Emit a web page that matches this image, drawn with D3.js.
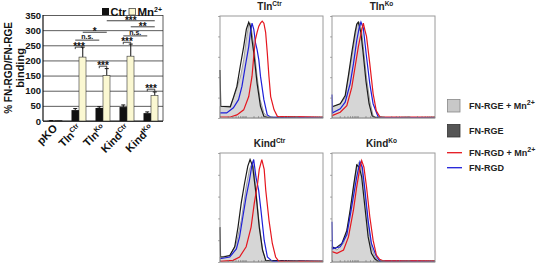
<!DOCTYPE html>
<html>
<head>
<meta charset="utf-8">
<script src="https://cdn.jsdelivr.net/npm/d3@7"></script>
<style>
body { margin: 0; background: #fff; }
text { font-family: "Liberation Sans", Arial, sans-serif; font-weight: bold; }
</style>
</head>
<body>
<script>
// ---- bar chart data ----
var groups = ["pKO", "TlnCtr", "TlnKo", "KindCtr", "KindKo"];
var groupBase = ["pKO", "Tln", "Tln", "Kind", "Kind"];
var groupSup = ["", "Ctr", "Ko", "Ctr", "Ko"];
var ctrValues = [1, 36, 43, 46, 26];
var ctrErr = [0.5, 5, 4, 7, 4];
var mnValues = [1, 211, 150, 214, 84];
var mnErr = [0.5, 33, 23, 40, 12];
var yTicks = [0, 50, 100, 150, 200, 250, 300, 350];

// significance marks: from [group, bar] to [group, bar] at a value
var sigText = ["***", "***", "***", "***", "n.s.", "*", "n.s.", "**", "***"];
var sigFrom = [["TlnCtr","ctr"], ["TlnKo","ctr"], ["KindCtr","ctr"], ["KindKo","ctr"],
               ["TlnCtr","ctr"], ["TlnCtr","mn"], ["KindCtr","ctr"], ["KindCtr","mn"], ["TlnKo","mn"]];
var sigTo = [["TlnCtr","mn"], ["TlnKo","mn"], ["KindCtr","mn"], ["KindKo","mn"],
             ["TlnKo","ctr"], ["TlnKo","mn"], ["KindKo","ctr"], ["KindKo","mn"], ["KindKo","mn"]];
var sigValue = [244, 181, 260, 105, 267, 293, 281, 311, 331];

// ---- flow histograms (% of max vs channel 0-100) ----
var panelNames = ["TlnCtr", "TlnKo", "KindCtr", "KindKo"];
var panelBase = ["Tln", "Tln", "Kind", "Kind"];
var panelSup = ["Ctr", "Ko", "Ctr", "Ko"];

var tlnCtrRgeMn = [[0,11.5],[10,11.5],[15,25],[20,41],[23,57],[26,80],[28,92],[29.5,93],[31,84],[33,70],[36,41],[39,18],[42.6,5],[46,1],[100,0.5]];
var tlnCtrRge = [[0,47],[0.7,11.5],[10,11],[13,20],[16.4,31],[19.7,51],[23,70],[25.6,87],[27.9,94],[29.5,90],[31,77],[32.8,64],[36,34],[39.3,11.5],[42.6,1.6],[46,0.5],[100,0.5]];
var tlnCtrRgd = [[0,5],[6.5,5],[13,10],[18,18],[21.3,31],[24.6,51],[27.9,70],[29.5,84],[31.1,93],[32.8,87],[34.4,74],[36,67],[37.7,57],[39.3,41],[42.6,18],[45.9,3],[49,1],[100,0.5]];
var tlnCtrRgdMn = [[0,1],[10,1],[16.4,3],[23,8],[27.9,21],[31.1,41],[32.8,61],[34.4,77],[36,84],[37.7,90],[39.3,93],[41,95],[42.6,93],[44.3,84],[45.9,64],[47.5,41],[49.2,21],[52.5,8],[55.7,1.6],[100,1]];

var tlnKoRgeMn = [[0,10.5],[8,14],[12.8,20],[16,40],[19.2,60],[22.4,80],[24.6,93],[26.5,94],[28.8,86],[30.4,70],[33.5,40],[36.7,17],[39.9,2.3],[43,0.5],[100,0.5]];
var tlnKoRge = [[0,11],[8,14],[12.8,22],[16,42],[19.2,64],[22.4,84],[24,92],[25.5,94],[28,84],[30,66],[33,36],[36,14],[39,2],[42,0.5],[100,0.5]];
var tlnKoRgd = [[0,23],[0.5,5],[1.6,5.6],[8,9],[12.8,15.5],[17.6,33.5],[20.8,53],[24,76],[26.5,89],[28.1,94],[30.4,88],[33.5,60],[36.7,33.5],[39.9,14],[44.7,1.3],[48,0.5],[100,0.5]];
var tlnKoRgdMn = [[0,2.3],[8,5.6],[14.4,12],[19.2,30],[22.4,50],[25.6,70],[28.8,86],[30.4,93],[32,86],[33.5,80],[36.7,53],[39.9,24],[43,7],[46.3,1.3],[49.5,1],[100,1]];

var kindCtrRgeMn = [[0,4.6],[9.5,6],[15.9,17],[20.6,38],[25.4,69],[28.6,85],[31.7,92],[33.3,81.5],[34.9,66],[38.1,35],[41.3,11],[44.4,1.5],[100,0.5]];
var kindCtrRge = [[0,32],[0.5,4.6],[3.2,4.6],[9.5,6],[14.3,14],[17.5,32],[20.6,54],[23.8,72],[27,88],[29.2,94],[31.7,88],[34.9,63],[38.1,32],[41.3,11],[44.4,1.5],[100,0.5]];
var kindCtrRgd = [[0,3],[9.5,4.6],[15.9,12],[19,23],[22.2,41.5],[25.4,60],[28.6,75],[30.8,88],[32.7,94],[34.9,78],[37.5,66],[39.7,48],[42.9,20],[46,4.6],[50.8,0.6],[100,0.5]];
var kindCtrRgdMn = [[0,0.6],[12.7,1.5],[19,4.6],[25.4,14],[30.2,32],[33.3,54],[36.5,72],[38.1,85],[40.6,94],[42.9,85],[44.4,66],[47.6,38],[50.8,17],[54,4.6],[57.1,0.6],[100,0.6]];

var kindKoRgeMn = [[0,14],[4.8,11],[11.2,17],[16,35],[19.2,57],[22.4,78],[24.6,89],[26.5,92],[28.8,87],[32,63],[35.1,35],[38.3,14],[41.5,5],[44.7,1],[100,0.5]];
var kindKoRge = [[0,14],[3.2,12.5],[9.6,17],[14.4,29],[17.6,47.5],[20.8,69],[24,89],[26.5,87],[28.8,78],[32,50],[35.1,23],[38.3,8],[41.5,3],[44.7,0.5],[100,0.5]];
var kindKoRgd = [[0,37],[0.5,12],[1.6,12.5],[8,14],[14.4,25],[19.2,51],[24,78],[27.2,92],[29.4,87],[32,66],[35.1,38],[38.3,17],[43.1,5],[46.3,1],[100,0.5]];
var kindKoRgdMn = [[0,9.5],[4.8,8],[11.2,11],[16,23],[20.8,47.5],[24,69],[27.2,87],[28.8,93],[31,87],[33.5,69],[36.7,41.5],[39.9,20],[43.1,6.4],[46.3,2.4],[49.5,1],[100,1]];

var histData = [
    [tlnCtrRgeMn, tlnCtrRge, tlnCtrRgd, tlnCtrRgdMn],
    [tlnKoRgeMn, tlnKoRge, tlnKoRgd, tlnKoRgdMn],
    [kindCtrRgeMn, kindCtrRge, kindCtrRgd, kindCtrRgdMn],
    [kindKoRgeMn, kindKoRge, kindKoRgd, kindKoRgdMn]
];

var legendBase = ["FN-RGE + Mn", "FN-RGE", "FN-RGD + Mn", "FN-RGD"];
var legendSup = ["2+", "", "2+", ""];

//create svg
var svg = d3.select("body").append("svg")
    .attr("width", 538)
    .attr("height", 267);

// ================= bar chart =================
var y = d3.scaleLinear().domain([0, 350]).range([121, 15]);
var x0 = d3.scaleBand().domain(groups).range([43, 163])
    .paddingInner(0.375).paddingOuter(0.1875);
var x1 = d3.scaleBand().domain(["ctr", "mn"]).range([0, x0.bandwidth()]);

function barCenter(g, b) { return x0(g) + x1(b) + x1.bandwidth() / 2; }

// grid lines
svg.append("g")
    .attr("transform", "translate(43,0)")
    .call(d3.axisLeft(y).tickValues(yTicks).tickSize(-120).tickFormat(""))
    .call(function(g) {
        g.select(".domain").remove();
        g.selectAll("line").attr("stroke", "#333").attr("stroke-width", 0.8);
    });

// frame
svg.append("line").attr("x1", 43).attr("x2", 43).attr("y1", y(350)).attr("y2", y(0))
    .attr("stroke", "#111").attr("stroke-width", 1.2);
svg.append("line").attr("x1", 163).attr("x2", 163).attr("y1", y(350)).attr("y2", y(0))
    .attr("stroke", "#333").attr("stroke-width", 0.8);
svg.append("line").attr("x1", 43).attr("x2", 163).attr("y1", y(0)).attr("y2", y(0))
    .attr("stroke", "#111").attr("stroke-width", 1.2);

// y tick labels
svg.append("g")
    .attr("transform", "translate(43,0)")
    .call(d3.axisLeft(y).tickValues(yTicks).tickSize(0).tickPadding(2))
    .call(function(g) {
        g.select(".domain").remove();
        g.selectAll("text").attr("font-size", 9.5).attr("fill", "#111")
            .style("font-family", "'Liberation Sans', Arial, sans-serif").style("font-weight", "bold");
    });

// y title
svg.append("text")
    .attr("transform", "translate(12,68) rotate(-90)")
    .attr("text-anchor", "middle").attr("font-size", 10).attr("fill", "#111")
    .text("% FN-RGD/FN-RGE");
svg.append("text")
    .attr("transform", "translate(23.5,68) rotate(-90)")
    .attr("text-anchor", "middle").attr("font-size", 11).attr("fill", "#111")
    .text("binding");

// bars
var bars = svg.append("g");
groups.forEach(function(g, i) {
    // error bars
    [["ctr", ctrValues[i], ctrErr[i]], ["mn", mnValues[i], mnErr[i]]].forEach(function(b) {
        var cx = barCenter(g, b[0]);
        bars.append("line").attr("x1", cx).attr("x2", cx)
            .attr("y1", y(b[1])).attr("y2", y(b[1] + b[2]))
            .attr("stroke", "#111").attr("stroke-width", 1);
        bars.append("line").attr("x1", cx - 2).attr("x2", cx + 2)
            .attr("y1", y(b[1] + b[2])).attr("y2", y(b[1] + b[2]))
            .attr("stroke", "#111").attr("stroke-width", 1);
    });
    bars.append("rect")
        .attr("x", x0(g) + x1("ctr")).attr("width", x1.bandwidth())
        .attr("y", y(ctrValues[i])).attr("height", y(0) - y(ctrValues[i]))
        .attr("fill", "#111");
    bars.append("rect")
        .attr("x", x0(g) + x1("mn")).attr("width", x1.bandwidth() - 0.5)
        .attr("y", y(mnValues[i])).attr("height", y(0) - y(mnValues[i]))
        .attr("fill", "#fbf8d2").attr("stroke", "#333").attr("stroke-width", 0.6);
});

// x labels
groups.forEach(function(g, i) {
    var t = svg.append("text")
        .attr("transform", "translate(" + (x0(g) + x0.bandwidth() / 2 + 3) + ",129) rotate(-45)")
        .attr("text-anchor", "end").attr("font-size", 11).attr("fill", "#111");
    t.append("tspan").text(groupBase[i]);
    if (groupSup[i]) t.append("tspan").attr("font-size", 7).attr("dy", -4).text(groupSup[i]);
});

// significance
sigText.forEach(function(s, i) {
    var xa = barCenter(sigFrom[i][0], sigFrom[i][1]);
    var xb = barCenter(sigTo[i][0], sigTo[i][1]);
    var yy = y(sigValue[i]);
    var pair = sigFrom[i][0] == sigTo[i][0];
    svg.append("path")
        .attr("d", pair
            ? "M" + xa + "," + (yy + 2) + "V" + yy + "H" + xb + "V" + (yy + 2)
            : "M" + xa + "," + yy + "H" + xb)
        .attr("fill", "none").attr("stroke", "#111").attr("stroke-width", 0.8);
    svg.append("text")
        .attr("x", (xa + xb) / 2)
        .attr("y", s == "n.s." ? yy - 1.2 : yy + 3)
        .attr("text-anchor", "middle")
        .attr("font-size", s == "n.s." ? 7 : 10)
        .attr("font-weight", s == "n.s." ? "normal" : "bold")
        .attr("fill", "#111")
        .text(s);
});

// bar legend
svg.append("rect").attr("x", 102).attr("y", 8).attr("width", 7).attr("height", 7).attr("fill", "#111");
svg.append("text").attr("x", 110.5).attr("y", 16).attr("font-size", 11).attr("fill", "#111").text("Ctr");
svg.append("rect").attr("x", 129).attr("y", 8.5).attr("width", 6.5).attr("height", 6.5)
    .attr("fill", "#fbf8d2").attr("stroke", "#333").attr("stroke-width", 0.7);
var mnLeg = svg.append("text").attr("x", 137.5).attr("y", 16).attr("font-size", 11.5).attr("fill", "#111");
mnLeg.append("tspan").text("Mn");
mnLeg.append("tspan").attr("font-size", 7).attr("dy", -4).text("2+");

// ================= histograms =================
var panelLeft = [220, 332, 220, 332];
var panelTop = [16, 16, 153, 153];
var panelHeight = [102, 102, 109, 109];
var panelWidth = 103;
var lineColors = [null, "#1a1a1a", "#1f1fd8", "#e5161e"];

panelNames.forEach(function(name, p) {
    var left = panelLeft[p], top = panelTop[p], h = panelHeight[p];
    var hx = d3.scaleLinear().domain([0, 100]).range([left, left + panelWidth]);
    var hy = d3.scaleLinear().domain([0, 100]).range([top + h, top]);
    var pg = svg.append("g");

    // fill curve
    pg.append("path")
        .datum(histData[p][0])
        .attr("d", d3.area().x(function(d) { return hx(d[0]); })
            .y0(hy(0)).y1(function(d) { return hy(d[1]); }))
        .attr("fill", "#d6d6d6").attr("stroke", "#8a8a8a").attr("stroke-width", 0.8);

    for (var k = 1; k < 4; k++) {
        pg.append("path")
            .datum(histData[p][k])
            .attr("d", d3.line().x(function(d) { return hx(d[0]); }).y(function(d) { return hy(d[1]); }))
            .attr("fill", "none").attr("stroke", lineColors[k]).attr("stroke-width", 1.2);
    }

    // frame
    pg.append("rect").attr("x", left).attr("y", top).attr("width", panelWidth).attr("height", h)
        .attr("fill", "none").attr("stroke", "#9a9a9a").attr("stroke-width", 1);

    // log-style minor ticks
    var logTicks = [];
    for (var dec = 0; dec < 4; dec++)
        for (var m = 1; m < 10; m++) logTicks.push(dec * 25 + Math.log10(m) * 25);
    pg.append("g")
        .attr("transform", "translate(0," + (top + h) + ")")
        .call(d3.axisBottom(hx).tickValues(logTicks).tickSize(-2).tickFormat(""))
        .call(function(g) {
            g.select(".domain").remove();
            g.selectAll("line").attr("stroke", "#777").attr("stroke-width", 0.6);
        });
    pg.append("g")
        .attr("transform", "translate(" + left + ",0)")
        .call(d3.axisLeft(hy).tickValues([0, 20, 40, 60, 80, 100]).tickSize(2).tickFormat(""))
        .call(function(g) {
            g.select(".domain").remove();
            g.selectAll("line").attr("stroke", "#777").attr("stroke-width", 0.6);
        });

    // title
    var t = pg.append("text")
        .attr("x", left + panelWidth / 2 - 2).attr("y", top - 6)
        .attr("text-anchor", "middle").attr("font-size", 10).attr("fill", "#222");
    t.append("tspan").text(panelBase[p]);
    t.append("tspan").attr("font-size", 6.5).attr("dy", -4).text(panelSup[p]);
});

// ================= histogram legend =================
var legY = [105.5, 130.5, 152.7, 167.7];
var lg = svg.append("g");
lg.append("rect").attr("x", 447.5).attr("y", 99.5).attr("width", 12.5).attr("height", 12.5)
    .attr("fill", "#c8c8c8").attr("stroke", "#888").attr("stroke-width", 0.8);
lg.append("rect").attr("x", 447.5).attr("y", 124.5).attr("width", 12.5).attr("height", 12.5)
    .attr("fill", "#555").attr("stroke", "#333").attr("stroke-width", 0.8);
lg.append("line").attr("x1", 447).attr("x2", 462).attr("y1", legY[2]).attr("y2", legY[2])
    .attr("stroke", "#e5161e").attr("stroke-width", 1.3);
lg.append("line").attr("x1", 447).attr("x2", 462).attr("y1", legY[3]).attr("y2", legY[3])
    .attr("stroke", "#1f1fd8").attr("stroke-width", 1.3);
legendBase.forEach(function(s, i) {
    var t = lg.append("text").attr("x", 469).attr("y", legY[i] + 3.5)
        .attr("font-size", 9).attr("fill", "#222");
    t.append("tspan").text(s);
    if (legendSup[i]) t.append("tspan").attr("font-size", 7).attr("dy", -4).text(legendSup[i]);
});
</script>
</body>
</html>
